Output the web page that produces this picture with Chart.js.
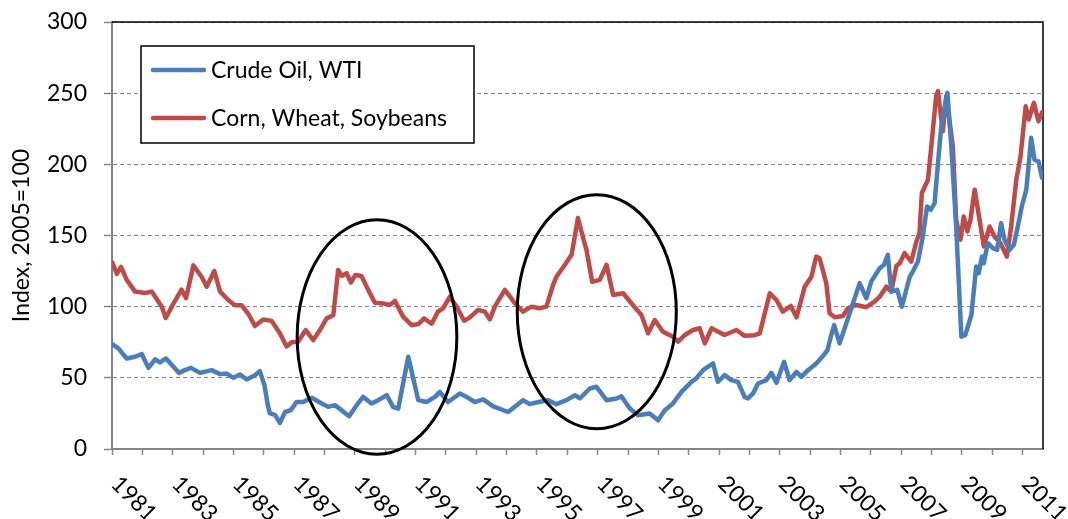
<!DOCTYPE html>
<html><head><meta charset="utf-8">
<script src="https://cdn.jsdelivr.net/npm/chart.js@4.4.1/dist/chart.umd.min.js"></script>
<style>html,body{margin:0;padding:0;background:#fff;}#wrap{width:1068px;height:519px;position:relative;}</style>
</head><body><div id="wrap"><canvas id="c" width="1068" height="519"></canvas></div>
<script>
// ---- data ----
const seriesNames = ['Crude Oil, WTI', 'Corn, Wheat, Soybeans'];
const yAxisTitle = 'Index, 2005=100';
const xTickLabels = ['1981','1983','1985','1987','1989','1991','1993','1995','1997','1999','2001','2003','2005','2007','2009','2011'];

const oilYears = [1981.01,1981.21,1981.48,1981.76,1981.98,1982.20,1982.42,1982.58,1982.78,1982.97,1983.21,1983.40,1983.60,1983.90,1984.28,1984.56,1984.78,1985.00,1985.21,1985.44,1985.71,1985.87,1986.02,1986.14,1986.20,1986.37,1986.53,1986.70,1986.89,1987.08,1987.30,1987.58,1987.85,1988.12,1988.34,1988.56,1988.81,1989.06,1989.27,1989.55,1989.77,1990.05,1990.26,1990.43,1990.76,1991.09,1991.36,1991.64,1991.80,1992.07,1992.46,1992.68,1992.95,1993.23,1993.56,1994.05,1994.54,1994.76,1995.05,1995.37,1995.64,1995.97,1996.25,1996.41,1996.74,1996.96,1997.29,1997.62,1997.78,1998.06,1998.33,1998.71,1998.99,1999.21,1999.48,1999.76,2000.09,2000.25,2000.47,2000.80,2000.96,2001.18,2001.40,2001.62,2001.84,2001.95,2002.12,2002.28,2002.56,2002.72,2002.89,2003.14,2003.32,2003.55,2003.71,2003.93,2004.20,2004.42,2004.57,2004.68,2004.79,2004.97,2005.19,2005.63,2005.85,2006.01,2006.29,2006.43,2006.56,2006.67,2006.87,2007.02,2007.28,2007.38,2007.55,2007.71,2007.85,2007.97,2008.10,2008.21,2008.32,2008.52,2008.65,2008.81,2008.98,2009.11,2009.31,2009.47,2009.55,2009.66,2009.72,2009.85,2010.02,2010.16,2010.29,2010.40,2010.57,2010.71,2010.84,2010.97,2011.12,2011.28,2011.39,2011.52,2011.64];
const oilValues = [73.7,70.7,63.6,64.8,66.7,57,63,60.8,63.6,59,53.5,55.4,57,53.5,55.4,52.6,53,50,52.4,48.8,51.9,54.7,45,30,25,24,18.3,26,27.3,33,33,36,32.7,29.6,30.8,27.3,23,30.8,36.6,32,34.3,37.8,29.6,28.4,64.8,34.3,33,36.6,40.1,33,39,36.6,33,34.8,30,26,34.3,31.5,33,34.3,31.5,34.3,37.8,35.5,42.5,43.7,34.3,35.5,37.1,28.4,23.7,24.9,20.2,27.3,32,40.1,47.2,49.6,55.4,60.1,47.2,51.9,48.4,47.2,36.6,35.5,39,46,48.4,53.5,46.5,61.3,48.4,54.2,50.7,55.4,60.1,65.3,69.5,78.9,87.1,74.2,88.3,116.5,105.9,117.6,127,129.4,136.4,110.6,111.8,100,121,124.6,131.7,149.3,170.4,168,172.8,201,226.8,250.3,212.7,156.3,78.9,80.1,94.2,128.2,123.5,135.2,130.5,144.6,141.1,139.9,158.7,147,139.9,143.5,156.3,170.4,182.2,218.6,203.3,202.1,190.4];

const grainYears = [1981.01,1981.16,1981.30,1981.48,1981.76,1982.09,1982.31,1982.64,1982.77,1983.02,1983.29,1983.44,1983.68,1983.95,1984.12,1984.37,1984.56,1984.83,1985.05,1985.27,1985.49,1985.71,1985.98,1986.26,1986.53,1986.75,1986.92,1987.13,1987.38,1987.63,1987.85,1988.07,1988.29,1988.45,1988.58,1988.73,1988.87,1989.02,1989.22,1989.44,1989.66,1989.93,1990.15,1990.32,1990.59,1990.87,1991.09,1991.28,1991.53,1991.74,1991.91,1992.13,1992.35,1992.60,1992.79,1993.06,1993.28,1993.45,1993.61,1993.94,1994.11,1994.27,1994.54,1994.82,1995.09,1995.31,1995.53,1995.64,1995.92,1996.14,1996.35,1996.55,1996.63,1996.82,1997.07,1997.29,1997.51,1997.84,1998.11,1998.44,1998.66,1998.88,1999.15,1999.48,1999.65,1999.87,2000.14,2000.36,2000.53,2000.75,2001.18,2001.57,2001.84,2002.17,2002.34,2002.67,2002.89,2003.10,2003.36,2003.55,2003.82,2004.04,2004.20,2004.31,2004.53,2004.64,2004.81,2005.08,2005.24,2005.52,2005.85,2006.12,2006.29,2006.51,2006.67,2006.84,2006.95,2007.11,2007.33,2007.50,2007.60,2007.68,2007.88,2007.99,2008.15,2008.21,2008.37,2008.48,2008.70,2008.81,2008.95,2009.06,2009.18,2009.28,2009.42,2009.58,2009.72,2009.91,2010.07,2010.27,2010.48,2010.62,2010.79,2010.93,2011.10,2011.20,2011.37,2011.52,2011.64];
const grainValues = [131,123,128,119,110.6,109.6,110.6,100,92,102,112,106,129,121,114,125,110.6,104.7,101,101,95,86.4,91,90,81.3,72,75,75.4,83.6,76.5,83.6,91.8,94,125.8,121.6,123.5,117,122.3,121.6,111.8,102.8,102.3,101.2,104,93,87,87.8,91.8,88,96.5,98.9,107,100,90.1,92.5,97.7,96.5,91,100,111.8,107,102.4,96.5,100,98.9,100,115.3,121,129.4,136.4,162.3,145.8,140,117.5,118.8,129.4,108.2,109.4,102.4,94.2,81.3,90.6,82.4,78.9,75.4,80.1,83.6,84.8,74.2,84.8,80.1,83.6,79.5,80,81.3,109.4,104.7,96.5,100.5,92.5,114,121,135.2,134,116.5,95.4,92.5,93.4,98.9,101.2,99.6,103.5,107,114,110.6,128.7,130.5,137.6,131.7,145.8,151.7,179.9,189.2,212.7,247.9,251.4,223.2,247.9,212.7,161,147,163.4,152.8,161,182.2,161,142.3,156.3,149.3,144.6,135.2,156.3,189.2,205.6,240.8,231.5,243.2,230.3,236.6];

// highlighted periods (in data units: year centre, index centre, half-width in years, half-height in index points)
const highlightCentersX = [1989.73, 1996.97];
const highlightCentersY = [78.7, 96.5];
const highlightHalfX = [2.63, 2.62];
const highlightHalfY = [82.4, 82.2];

// ---- drawing ----
const FONT = 'Lato, "Open Sans", sans-serif';
const FONT_SIZE = 23;
const COLORS = ['#4A7EBB', '#BE4B48'];

const framePlugin = {
  id: 'frame',
  beforeDatasetsDraw(chart) {
    const {ctx, chartArea: a} = chart;
    ctx.save();
    ctx.strokeStyle = '#000';
    ctx.lineWidth = 1.5;
    ctx.beginPath();
    ctx.moveTo(a.left, a.top);
    ctx.lineTo(a.right, a.top);
    ctx.lineTo(a.right, a.bottom);
    ctx.stroke();
    ctx.restore();
  }
};

const overlayPlugin = {
  id: 'overlay',
  afterDatasetsDraw(chart) {
    const {ctx, chartArea: a, scales: {x, y}} = chart;
    ctx.save();
    // ellipses
    ctx.strokeStyle = '#000';
    ctx.lineWidth = 3;
    for (let i = 0; i < highlightCentersX.length; i++) {
      const cx = x.getPixelForValue(highlightCentersX[i]);
      const cy = y.getPixelForValue(highlightCentersY[i]);
      const rx = Math.abs(x.getPixelForValue(highlightCentersX[i] + highlightHalfX[i]) - cx);
      const ry = Math.abs(y.getPixelForValue(highlightCentersY[i] + highlightHalfY[i]) - cy);
      ctx.beginPath();
      ctx.ellipse(cx, cy, rx, ry, 0, 0, Math.PI * 2);
      ctx.stroke();
    }
    // legend box
    const bx = a.left + 29, by = a.top + 24, bw = 333, bh = 97;
    ctx.fillStyle = '#fff';
    ctx.fillRect(bx, by, bw, bh);
    ctx.lineWidth = 1.5;
    ctx.strokeStyle = '#000';
    ctx.strokeRect(bx, by, bw, bh);
    ctx.font = FONT_SIZE + 'px ' + FONT;
    ctx.textBaseline = 'middle';
    ctx.textAlign = 'left';
    chart.data.datasets.forEach((ds, i) => {
      const ly = by + 24 + i * 48;
      ctx.strokeStyle = ds.borderColor;
      ctx.lineWidth = 4.5;
      ctx.lineCap = 'round';
      ctx.beginPath();
      ctx.moveTo(bx + 12, ly);
      ctx.lineTo(bx + 63, ly);
      ctx.stroke();
      ctx.fillStyle = '#000';
      ctx.fillText(ds.label, bx + 70, ly + 1);
    });
    ctx.restore();
  },
  afterDraw(chart) {
    const {ctx, scales: {x}} = chart;
    ctx.save();
    ctx.font = FONT_SIZE + 'px ' + FONT;
    ctx.fillStyle = '#000';
    ctx.textAlign = 'left';
    ctx.textBaseline = 'middle';
    xTickLabels.forEach(lbl => {
      const px = x.getPixelForValue(Number(lbl));
      ctx.save();
      ctx.translate(px + 3, x.top + 31);
      ctx.rotate(Math.PI / 4);
      ctx.fillText(lbl, 0, 0);
      ctx.restore();
    });
    ctx.restore();
  }
};

new Chart(document.getElementById('c'), {
  type: 'line',
  data: {
    datasets: [
      {label: seriesNames[0], data: oilYears.map((v, i) => ({x: v, y: oilValues[i]})), borderColor: COLORS[0], backgroundColor: COLORS[0]},
      {label: seriesNames[1], data: grainYears.map((v, i) => ({x: v, y: grainValues[i]})), borderColor: COLORS[1], backgroundColor: COLORS[1]}
    ]
  },
  options: {
    responsive: false,
    animation: false,
    devicePixelRatio: 1,
    layout: {padding: {top: 22, right: 25, left: 0, bottom: 0}},
    plugins: {legend: {display: false}, tooltip: {enabled: false}},
    elements: {
      point: {radius: 0},
      line: {borderWidth: 4.5, tension: 0, borderJoinStyle: 'round', borderCapStyle: 'round'}
    },
    scales: {
      x: {
        type: 'linear', min: 1981, max: 2011.67,
        ticks: {display: false, stepSize: 1, includeBounds: false},
        grid: {drawOnChartArea: false, tickLength: 6, tickColor: '#868686', tickWidth: 1.5},
        border: {color: '#868686', width: 2},
        afterFit: s => { s.height = 70; s.paddingLeft = 0; s.paddingRight = 0; }
      },
      y: {
        min: 0, max: 300,
        ticks: {stepSize: 50, color: '#000', font: {family: FONT, size: FONT_SIZE}, padding: 17},
        grid: {color: '#868686', lineWidth: 1, tickLength: 8, tickColor: '#868686', tickWidth: 1.5},
        border: {color: '#868686', width: 2, dash: [4, 3]},
        title: {display: true, text: yAxisTitle, color: '#000', font: {family: FONT, size: FONT_SIZE}, padding: {top: 8, bottom: 0}},
        afterFit: s => { s.width = 112; s.paddingTop = 0; s.paddingBottom = 0; }
      }
    }
  },
  plugins: [framePlugin, overlayPlugin]
});
</script></body></html>
